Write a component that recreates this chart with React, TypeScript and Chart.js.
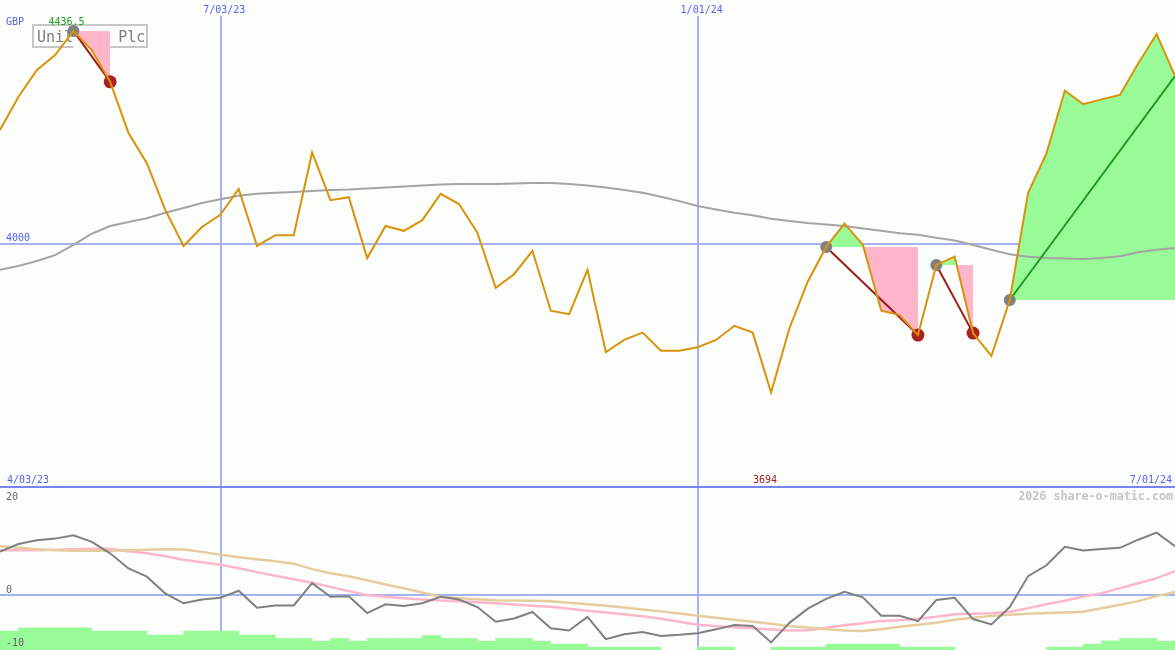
import React, { useEffect, useRef } from 'react';
import { Chart, registerables } from 'chart.js';

Chart.register(...registerables);

// ---------- data ----------
const TITLE = 'Unilever Plc';
const CURRENCY = 'GBP';

// weekly closes (index 0..64)
const PRICE = [
  4233, 4301, 4356, 4387, 4436.5, 4397, 4332, 4227, 4165, 4069,
  3995, 4034, 4059, 4112, 3995, 4017, 4017, 4187, 4089, 4095,
  3970, 4036, 4026, 4048, 4102, 4081, 4022, 3909, 3937, 3985,
  3862, 3855, 3946, 3777, 3802, 3817, 3780, 3780, 3787, 3802,
  3831, 3817, 3694, 3826, 3922, 3993, 4041, 3997, 3862, 3853,
  3812, 3956, 3973, 3816, 3769, 3884, 4104, 4185, 4314, 4286,
  4296, 4305, 4370, 4430, 4344,
];

// long moving average
const MA_LONG = [
  3946, 3954, 3964, 3976, 3997, 4020, 4036, 4044, 4052, 4063,
  4073, 4083, 4091, 4098, 4102, 4104, 4106, 4108, 4110, 4111,
  4113, 4115, 4117, 4119, 4121, 4122, 4122, 4122, 4123, 4124,
  4124, 4122, 4119, 4115, 4110, 4104, 4096, 4087, 4077, 4070,
  4063, 4058, 4051, 4046, 4042, 4039, 4036, 4031, 4026, 4021,
  4018, 4012, 4006, 3997, 3987, 3978, 3973, 3970, 3969, 3968,
  3970, 3974, 3982, 3987, 3991,
];

// trades (entry / exit week index); null exit = still open
const TRADE_ENTRY = [4, 45, 51, 55];
const TRADE_EXIT = [6, 50, 53, null];

// lower panel oscillator
const OSC = [
  8.1, 9.5, 10.2, 10.5, 11.1, 9.9, 7.8, 5.0, 3.5, 0.4,
  -1.4, -0.7, -0.4, 0.9, -2.2, -1.8, -1.8, 2.3, -0.2, -0.1,
  -3.2, -1.6, -1.9, -1.4, -0.2, -0.7, -2.1, -4.8, -4.2, -3.0,
  -6.0, -6.4, -3.9, -8.0, -7.1, -6.7, -7.4, -7.2, -6.9, -6.2,
  -5.4, -5.6, -8.6, -5.0, -2.4, -0.6, 0.7, -0.3, -3.7, -3.7,
  -4.7, -0.8, -0.4, -4.3, -5.3, -2.1, 3.6, 5.6, 9.0, 8.3,
  8.6, 8.8, 10.3, 11.6, 9.1,
];

const OSC_FAST = [
  8.37, 8.37, 8.37, 8.47, 8.56, 8.65, 8.65, 8.19, 7.82, 7.27,
  6.63, 6.17, 5.71, 5.06, 4.33, 3.68, 3.04, 2.36, 1.62, 0.83,
  0.09, -0.18, -0.46, -0.7, -0.88, -1.05, -1.2, -1.38, -1.62, -1.84,
  -2.06, -2.39, -2.76, -3.09, -3.41, -3.77, -4.23, -4.79, -5.37, -5.61,
  -5.8, -5.98, -6.22, -6.41, -6.35, -5.89, -5.43, -5.06, -4.64, -4.51,
  -4.23, -3.87, -3.41, -3.31, -3.22, -2.94, -2.3, -1.56, -0.92, -0.18,
  0.46, 1.38, 2.3, 3.22, 4.51,
];

const OSC_SLOW = [
  9.11, 8.83, 8.56, 8.37, 8.28, 8.25, 8.28, 8.37, 8.47, 8.56,
  8.5, 8.06, 7.55, 7.09, 6.72, 6.35, 5.89, 4.88, 4.14, 3.59,
  2.85, 2.06, 1.38, 0.59, -0.18, -0.46, -0.68, -0.83, -0.88, -0.94,
  -1.01, -1.29, -1.56, -1.84, -2.17, -2.54, -2.89, -3.28, -3.68, -4.05,
  -4.42, -4.82, -5.15, -5.61, -5.85, -6.17, -6.39, -6.48, -6.17, -5.74,
  -5.34, -4.97, -4.42, -4.05, -3.72, -3.5, -3.31, -3.18, -3.09, -2.96,
  -2.3, -1.66, -1.01, -0.09, 0.7,
];

// histogram bars (one per week interval, index 0..63)
const HIST = [
  -6.53, -5.93, -5.93, -5.93, -5.93, -6.53, -6.53, -6.53, -7.27, -7.27,
  -6.53, -6.53, -6.53, -7.27, -7.27, -7.88, -7.88, -8.37, -7.88, -8.37,
  -7.88, -7.88, -7.88, -7.33, -7.88, -7.88, -8.37, -7.88, -7.88, -8.37,
  -8.93, -8.93, -9.48, -9.48, -9.48, -9.48, null, null, -9.48, -9.48,
  null, null, -9.48, -9.48, -9.48, -8.93, -8.93, -8.93, -8.93, -9.48,
  -9.48, -9.48, null, null, null, null, null, -9.48, -9.48, -8.93,
  -8.32, -7.88, -7.88, -8.37,
];

const DATE_IDX = [0, 12, 38, 64];
const DATE_LABELS = ['4/03/23', '7/03/23', '1/01/24', '7/01/24'];
const DATE_GRID_IDX = [12, 38];

const PRICE_MIN = 3500;
const PRICE_MAX = 4500;
const PRICE_GRID = [4000];

const OSC_MIN = -10;
const OSC_MAX = 20;
const OSC_TICKS = [20, 0, -10];
const OSC_GRID = [0];

const WATERMARK = '2026 share-o-matic.com';

// ---------- styles ----------
const W = 1175;
const TOP_H = 487;
const BOT_H = 163;
const BG = '#fcfefc';
const GRID = '#a4b2f2';
const SEP = '#7586ee';
const BLUE_TXT = '#5262f0';
const ORANGE = '#d9930a';
const MA_GRAY = '#a4a4a4';
const PINK = '#feb6ca';
const GREEN = '#98fb98';
const DOT_GRAY = '#808080';
const DOT_RED = '#a82222';
const TRADE_RED = '#a01c1c';
const TRADE_GREEN = '#209a20';
const MONO = '"DejaVu Sans Mono", "Liberation Mono", monospace';

const pts = (arr: (number | null)[], off = 0) =>
  arr.map((v, i) => ({ x: i + off, y: v }));

const baseOptions = (ymin: number, ymax: number): any => ({
  responsive: false,
  animation: false,
  devicePixelRatio: 1,
  events: [],
  layout: { padding: 0, autoPadding: false },
  plugins: { legend: { display: false }, tooltip: { enabled: false } },
  scales: {
    x: { type: 'linear', min: 0, max: PRICE.length - 1, display: false, offset: false },
    y: { type: 'linear', min: ymin, max: ymax, display: false },
  },
});

export default function App() {
  const topRef = useRef<HTMLCanvasElement>(null);
  const botRef = useRef<HTMLCanvasElement>(null);

  useEffect(() => {
    document.body.style.margin = '0';
    document.body.style.background = BG;

    const last = PRICE.length - 1;
    const hiIdx = PRICE.indexOf(Math.max(...PRICE));
    const loIdx = PRICE.indexOf(Math.min(...PRICE));

    const tradeDatasets: any[] = [];
    TRADE_ENTRY.forEach((e, k) => {
      const x = TRADE_EXIT[k];
      const end = x === null ? last : x;
      const entryPrice = PRICE[e];
      tradeDatasets.push({
        type: 'line',
        data: PRICE.slice(e, end + 1).map((v, j) => ({ x: e + j, y: v })),
        borderWidth: 0,
        borderColor: 'rgba(0,0,0,0)',
        pointRadius: 0,
        tension: 0,
        fill: { target: { value: entryPrice }, above: GREEN, below: PINK },
        order: 4,
      });
      tradeDatasets.push({
        type: 'line',
        data: [{ x: e, y: entryPrice }, { x: end, y: PRICE[end] }],
        borderColor: x === null ? TRADE_GREEN : TRADE_RED,
        borderWidth: 2,
        pointRadius: 0,
        fill: false,
        order: 2,
      });
    });

    const topPlugin = {
      id: 'topDecor',
      beforeDatasetsDraw(chart: any) {
        const ctx = chart.ctx;
        const xs = chart.scales.x;
        const ys = chart.scales.y;
        ctx.save();
        ctx.strokeStyle = GRID;
        ctx.lineWidth = 2;
        PRICE_GRID.forEach((v) => {
          const y = Math.round(ys.getPixelForValue(v));
          ctx.beginPath();
          ctx.moveTo(0, y);
          ctx.lineTo(W, y);
          ctx.stroke();
        });
        DATE_GRID_IDX.forEach((i) => {
          const x = Math.floor(xs.getPixelForValue(i)) + 1;
          ctx.beginPath();
          ctx.moveTo(x, 16);
          ctx.lineTo(x, chart.height);
          ctx.stroke();
        });
        ctx.fillStyle = SEP;
        ctx.fillRect(0, chart.height - 1, W, 1);

        // title box
        ctx.fillStyle = BG;
        ctx.fillRect(32, 24, 116, 24);
        ctx.strokeStyle = '#c6c6c6';
        ctx.lineWidth = 2;
        ctx.strokeRect(33, 25, 114, 22);
        ctx.font = '15px ' + MONO;
        ctx.fillStyle = '#7c7c7c';
        ctx.textBaseline = 'alphabetic';
        ctx.textAlign = 'left';
        ctx.fillText(TITLE, 37, 42);

        // clear closed-trade boxes
        ctx.fillStyle = BG;
        TRADE_ENTRY.forEach((e, k) => {
          const x = TRADE_EXIT[k];
          if (x === null) return;
          const x1 = xs.getPixelForValue(e);
          const x2 = xs.getPixelForValue(x);
          const y1 = ys.getPixelForValue(Math.max(PRICE[e], PRICE[x]));
          const y2 = ys.getPixelForValue(Math.min(PRICE[e], PRICE[x]));
          ctx.fillRect(x1, y1, x2 - x1, y2 - y1);
        });
        ctx.restore();
      },
      afterDatasetsDraw(chart: any) {
        const ctx = chart.ctx;
        const xs = chart.scales.x;
        const ys = chart.scales.y;
        ctx.save();
        ctx.font = '10px ' + MONO;
        ctx.textBaseline = 'alphabetic';
        ctx.fillStyle = BLUE_TXT;
        ctx.textAlign = 'left';
        ctx.fillText(CURRENCY, 6, 25);
        PRICE_GRID.forEach((v) => {
          ctx.fillText(String(v), 6, Math.round(ys.getPixelForValue(v)) - 3);
        });
        DATE_IDX.forEach((i, k) => {
          const x = xs.getPixelForValue(i);
          if (k === 0) {
            ctx.textAlign = 'left';
            ctx.fillText(DATE_LABELS[k], 7, chart.height - 4);
          } else if (k === DATE_IDX.length - 1) {
            ctx.textAlign = 'right';
            ctx.fillText(DATE_LABELS[k], W - 3, chart.height - 4);
          } else {
            ctx.textAlign = 'center';
            ctx.fillText(DATE_LABELS[k], x + 4, 13);
          }
        });
        ctx.textAlign = 'left';
        ctx.fillStyle = '#20a020';
        ctx.fillText(String(PRICE[hiIdx]), xs.getPixelForValue(hiIdx) - 25, 25);
        ctx.textAlign = 'center';
        ctx.fillStyle = '#a02020';
        ctx.fillText(String(PRICE[loIdx]), xs.getPixelForValue(loIdx) - 6, chart.height - 4);
        ctx.restore();
      },
    };

    const topChart = new Chart(topRef.current as HTMLCanvasElement, {
      type: 'line',
      data: {
        datasets: [
          {
            data: pts(PRICE),
            borderColor: ORANGE,
            borderWidth: 2,
            pointRadius: 0,
            tension: 0,
            fill: false,
            order: 0,
          },
          {
            data: TRADE_ENTRY.map((e) => ({ x: e, y: PRICE[e] })),
            showLine: false,
            pointRadius: 6,
            pointBackgroundColor: DOT_GRAY,
            pointBorderColor: DOT_GRAY,
            pointBorderWidth: 0,
            order: 1,
          },
          {
            data: TRADE_EXIT.filter((x) => x !== null).map((x: any) => ({ x, y: PRICE[x] })),
            showLine: false,
            pointRadius: 6.5,
            pointBackgroundColor: DOT_RED,
            pointBorderColor: DOT_RED,
            pointBorderWidth: 0,
            order: 1,
          },
          {
            data: pts(MA_LONG),
            borderColor: MA_GRAY,
            borderWidth: 2,
            pointRadius: 0,
            tension: 0,
            fill: false,
            order: 3,
          },
          ...tradeDatasets,
        ] as any,
      },
      options: baseOptions(PRICE_MIN, PRICE_MAX),
      plugins: [topPlugin],
    } as any);

    const botPlugin = {
      id: 'botDecor',
      beforeDatasetsDraw(chart: any) {
        const ctx = chart.ctx;
        const xs = chart.scales.x;
        const ys = chart.scales.y;
        ctx.save();
        ctx.strokeStyle = GRID;
        ctx.lineWidth = 2;
        OSC_GRID.forEach((v) => {
          const y = Math.floor(ys.getPixelForValue(v));
          ctx.beginPath();
          ctx.moveTo(0, y);
          ctx.lineTo(W, y);
          ctx.stroke();
        });
        DATE_GRID_IDX.forEach((i) => {
          const x = Math.floor(xs.getPixelForValue(i)) + 1;
          ctx.beginPath();
          ctx.moveTo(x, 0);
          ctx.lineTo(x, chart.height);
          ctx.stroke();
        });
        ctx.fillStyle = SEP;
        ctx.fillRect(0, 0, W, 1);
        ctx.restore();
      },
      afterDatasetsDraw(chart: any) {
        const ctx = chart.ctx;
        const ys = chart.scales.y;
        ctx.save();
        ctx.font = '10px ' + MONO;
        ctx.textAlign = 'left';
        ctx.textBaseline = 'alphabetic';
        ctx.fillStyle = '#646464';
        OSC_TICKS.forEach((v) => {
          const y = ys.getPixelForValue(v);
          const base = v === OSC_MAX ? y + 13 : v === OSC_MIN ? y - 4 : y - 3;
          ctx.fillText(String(v), 6, base);
        });
        ctx.font = 'bold 11.7px ' + MONO;
        ctx.fillStyle = '#c4c4c4';
        ctx.textAlign = 'right';
        ctx.fillText(WATERMARK, W - 2, 13);
        ctx.restore();
      },
    };

    const botChart = new Chart(botRef.current as HTMLCanvasElement, {
      type: 'line',
      data: {
        datasets: [
          {
            data: pts(OSC),
            borderColor: '#808080',
            borderWidth: 2,
            pointRadius: 0,
            tension: 0,
            fill: false,
            order: 0,
          },
          {
            data: pts(OSC_SLOW),
            borderColor: '#e6cd9f',
            borderWidth: 2.5,
            pointRadius: 0,
            tension: 0,
            fill: false,
            order: 1,
          },
          {
            data: pts(OSC_FAST),
            borderColor: PINK,
            borderWidth: 2.5,
            pointRadius: 0,
            tension: 0,
            fill: false,
            order: 2,
          },
          {
            type: 'bar',
            data: pts(HIST, 0.5),
            base: OSC_MIN,
            backgroundColor: GREEN,
            borderWidth: 0,
            barPercentage: 1,
            categoryPercentage: 1,
            order: 3,
          },
        ] as any,
      },
      options: baseOptions(OSC_MIN, OSC_MAX),
      plugins: [botPlugin],
    } as any);

    return () => {
      topChart.destroy();
      botChart.destroy();
    };
  }, []);

  return (
    <div
      style={{
        position: 'absolute',
        left: 0,
        top: 0,
        width: W,
        height: TOP_H + BOT_H,
        background: BG,
        overflow: 'hidden',
      }}
    >
      <canvas ref={topRef} width={W} height={TOP_H} style={{ display: 'block' }} />
      <canvas ref={botRef} width={W} height={BOT_H} style={{ display: 'block' }} />
    </div>
  );
}
